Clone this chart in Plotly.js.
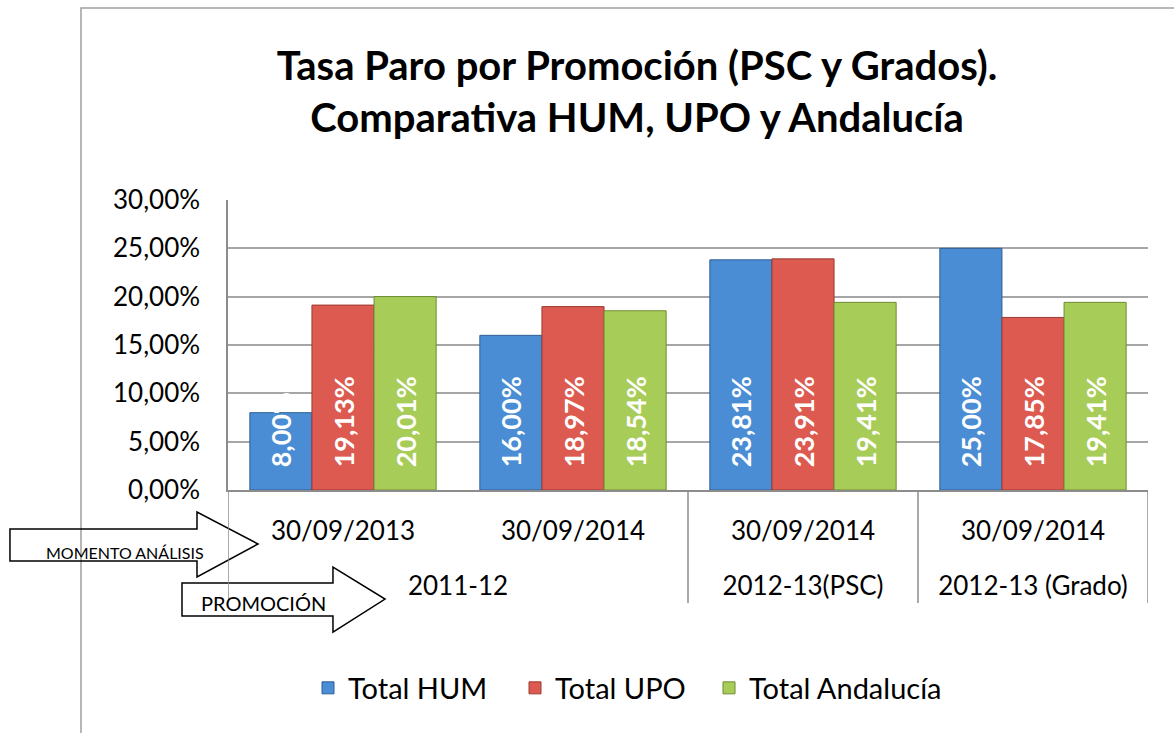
<!DOCTYPE html>
<html>
<head>
<meta charset="utf-8">
<script src="https://cdn.plot.ly/plotly-3.0.1.min.js"></script>
<style>
html,body{margin:0;padding:0;background:#fff;}
#chart{width:1174px;height:733px;}
</style>
</head>
<body>
<div id="chart"></div>
<script>
// Data
var momento = ["30/09/2013", "30/09/2014", "30/09/2014", "30/09/2014"];
var promocion = ["2011-12", "2011-12", "2012-13(PSC)", "2012-13 (Grado)"];
var seriesNames = ["Total HUM", "Total UPO", "Total Andalucía"];
var totalHUM = [0.08, 0.16, 0.2381, 0.25];
var totalUPO = [0.1913, 0.1897, 0.2391, 0.1785];
var totalAndalucia = [0.2001, 0.1854, 0.1941, 0.1941];
var yTickVals = [0, 0.05, 0.10, 0.15, 0.20, 0.25, 0.30];

var fillColors = ["#4a8dd4", "#dc5a4f", "#a8cc58"];
var lineColors = ["#2f5f95", "#9c3a33", "#6f8c33"];

var W = 1174, H = 733;
var L = 228, R = 1148, T = 200, B = 490;
function px(x){ return (x - L) / (R - L); }
function py(y){ return (B - y) / (B - T); }

var font = "Lato, 'Open Sans', sans-serif";

// category positions
var idx = momento.map(function(_, i){ return i; });
var xRange = [-0.5, momento.length - 0.5];

// outer groups (promotion) and their boundaries
var groupCenters = [], groupNames = [], boundaries = [];
(function(){
  var start = 0;
  for (var i = 1; i <= promocion.length; i++) {
    if (i === promocion.length || promocion[i] !== promocion[i - 1]) {
      groupCenters.push((start + i - 1) / 2);
      groupNames.push(promocion[start]);
      boundaries.push(start - 0.5);
      start = i;
    }
  }
  boundaries.push(promocion.length - 0.5);
})();

var legendIds = ["legend", "legend2", "legend3"];
var legendLeft = [308, 515, 709];

function barTrace(name, vals, i){
  return {
    type: "bar",
    name: name,
    legend: legendIds[i],
    x: idx,
    y: vals,
    marker: {color: fillColors[i], line: {color: lineColors[i], width: 1}},
    texttemplate: "\u00a0\u00a0\u00a0%{y:.2%}",
    textposition: "inside",
    insidetextanchor: "start",
    textangle: -90,
    constraintext: "none",
    cliponaxis: false,
    insidetextfont: {family: font, size: 27, color: "#ffffff", weight: "bold"},
    hoverinfo: "name+y"
  };
}

var data = [
  barTrace(seriesNames[0], totalHUM, 0),
  barTrace(seriesNames[1], totalUPO, 1),
  barTrace(seriesNames[2], totalAndalucia, 2),
  // carrier for the promotion label row (invisible)
  {
    type: "scatter", mode: "markers",
    x: groupCenters, y: groupCenters.map(function(){ return 0; }),
    xaxis: "x2", yaxis: "y",
    marker: {opacity: 0, size: 1},
    showlegend: false, hoverinfo: "skip"
  }
];

function arrowPath(x0, yTop, yBot, xHead, hTop, hBot, xTip, yTip){
  var pts = [[x0,yTop],[xHead,yTop],[xHead,hTop],[xTip,yTip],[xHead,hBot],[xHead,yBot],[x0,yBot]];
  return "M " + pts.map(function(p){ return px(p[0]).toFixed(4) + "," + py(p[1]).toFixed(4); }).join(" L ") + " Z";
}

var shapes = [
  // outer chart frame (left/top visible)
  {type: "rect", xref: "paper", yref: "paper", x0: px(81), x1: px(1300), y0: py(8), y1: py(900),
   line: {color: "#a0a0a0", width: 1.5}, fillcolor: "rgba(0,0,0,0)", layer: "below"},
  // MOMENTO ANÁLISIS arrow
  {type: "path", xref: "paper", yref: "paper",
   path: arrowPath(10, 529, 561, 197, 512, 577, 258, 544),
   line: {color: "#000000", width: 1.5}, fillcolor: "rgba(255,255,255,0)", layer: "above"},
  // PROMOCIÓN arrow
  {type: "path", xref: "paper", yref: "paper",
   path: arrowPath(182, 583, 616, 333, 567, 632, 385, 599),
   line: {color: "#000000", width: 1.5}, fillcolor: "rgba(255,255,255,0)", layer: "above"}
];
boundaries.forEach(function(b){
  shapes.push({type: "line", xref: "x", yref: "paper", x0: b, x1: b, y0: 0, y1: py(603),
    line: {color: "#8c8c8c", width: 1.5}, layer: "above"});
});

var layout = {
  width: W, height: H,
  paper_bgcolor: "#ffffff",
  plot_bgcolor: "#ffffff",
  margin: {l: L, r: W - R, t: T, b: H - B, pad: 0},
  separators: ",.",
  showlegend: true,
  font: {family: font, color: "#000000"},
  title: {
    text: "<b>Tasa Paro por Promoción (PSC y Grados).<br>Comparativa HUM, UPO y Andalucía</b>",
    font: {family: font, size: 40, color: "#000000"},
    x: 637 / W, xref: "container", xanchor: "center",
    y: 1 - 80 / H, yref: "container", yanchor: "top"
  },
  barmode: "group",
  bargap: 0.19,
  bargroupgap: 0,
  xaxis: {
    type: "linear",
    range: xRange,
    tickmode: "array",
    tickvals: idx,
    ticktext: momento,
    showgrid: false,
    showline: true,
    linecolor: "#8c8c8c",
    linewidth: 1.5,
    ticks: "",
    ticklabelstandoff: 17,
    tickfont: {family: font, size: 26, color: "#000000"},
    zeroline: false,
    fixedrange: true
  },
  xaxis2: {
    type: "linear",
    overlaying: "x",
    anchor: "y",
    side: "bottom",
    range: xRange,
    tickmode: "array",
    tickvals: groupCenters,
    ticktext: groupNames,
    showgrid: false,
    showline: false,
    ticks: "",
    ticklabelstandoff: 78,
    tickfont: {family: font, size: 26, color: "#000000"},
    zeroline: false,
    fixedrange: true
  },
  yaxis: {
    range: [0, 0.30],
    tickvals: yTickVals,
    tickformat: ".2%",
    showgrid: true,
    gridcolor: "#a6a6a6",
    gridwidth: 1.5,
    showline: true,
    linecolor: "#8c8c8c",
    linewidth: 1.5,
    ticks: "",
    ticklabelstandoff: 21,
    tickfont: {family: font, size: 26, color: "#000000"},
    zeroline: false,
    fixedrange: true
  },
  shapes: shapes,
  annotations: [
    {text: "MOMENTO ANÁLISIS", xref: "paper", yref: "paper", x: px(125), y: py(552),
     showarrow: false, xanchor: "center", yanchor: "middle",
     font: {family: font, size: 16, color: "#000000"}},
    {text: "PROMOCIÓN", xref: "paper", yref: "paper", x: px(263), y: py(603),
     showarrow: false, xanchor: "center", yanchor: "middle",
     font: {family: font, size: 20, color: "#000000"}}
  ]
};

legendIds.forEach(function(id, i){
  layout[id] = {
    orientation: "h",
    xref: "container", yref: "container",
    x: legendLeft[i] / W, xanchor: "left",
    y: 1 - 688 / H, yanchor: "middle",
    font: {family: font, size: 29, color: "#000000"},
    itemwidth: 30,
    bgcolor: "rgba(0,0,0,0)"
  };
});

Plotly.newPlot("chart", data, layout, {displayModeBar: false});
</script>
</body>
</html>
